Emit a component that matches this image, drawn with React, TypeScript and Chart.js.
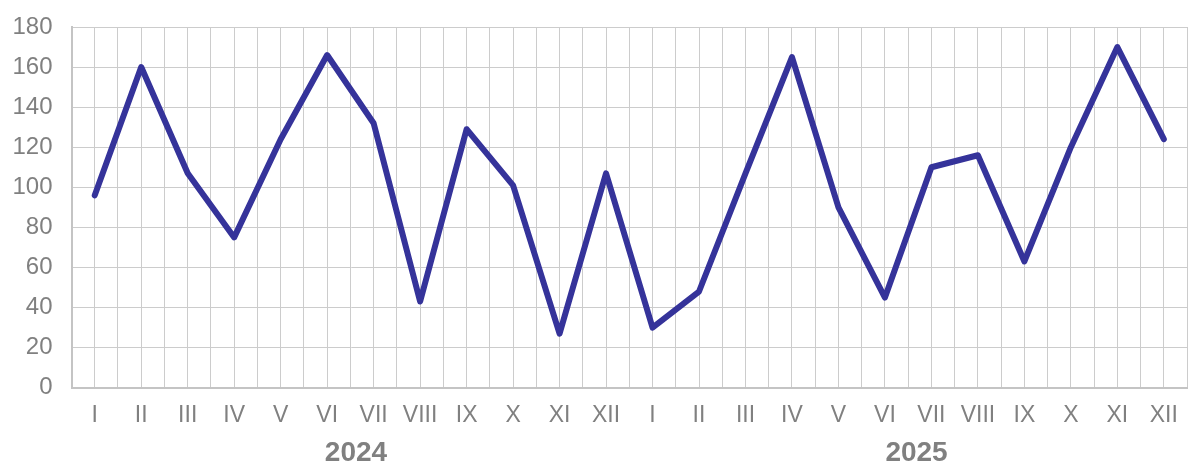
import React, { useEffect, useRef } from "react";
import { Chart, registerables } from "chart.js";

Chart.register(...registerables);

const months = ["I", "II", "III", "IV", "V", "VI", "VII", "VIII", "IX", "X", "XI", "XII"];
const categories = [...months, ...months];
const values = [
  96, 160, 107, 75, 124, 166, 132, 43, 129, 101, 27, 107,
  30, 48, 107, 165, 90, 45, 110, 116, 63, 120, 170, 124,
];
const years = ["2024", "2025"];
const yearTickValues = [5.62, 17.68];
const yTicks = [0, 20, 40, 60, 80, 100, 120, 140, 160, 180];

export default function App() {
  const canvasRef = useRef<HTMLCanvasElement | null>(null);

  useEffect(() => {
    const canvas = canvasRef.current;
    if (!canvas) return;
    const textColor = "#808080";
    const gridColor = "#cccccc";
    const chart = new Chart(canvas, {
      type: "line",
      data: {
        labels: categories,
        datasets: [
          {
            data: values,
            borderColor: "#35339a",
            borderWidth: 6,
            pointRadius: 0,
            tension: 0,
            borderJoinStyle: "round",
            borderCapStyle: "round",
            fill: false,
          },
        ],
      },
      options: {
        animation: false,
        responsive: false,
        devicePixelRatio: 1,
        layout: { padding: { top: 27, left: 0, right: 0, bottom: 0 } },
        plugins: { legend: { display: false }, tooltip: { enabled: false } },
        scales: {
          x: {
            type: "category",
            position: "bottom",
            weight: 0,
            offset: true,
            grid: { offset: false, color: gridColor, lineWidth: 1, drawTicks: false },
            border: { display: true, color: "#c4c4c4", width: 2 },
            ticks: {
              color: textColor,
              font: { family: "Liberation Sans, Arial", size: 23 },
              padding: 14,
              maxRotation: 0,
              autoSkip: false,
            },
            afterFit: (s: any) => {
              s.height = 40;
            },
          },
          xb: {
            type: "category",
            position: "top",
            offset: true,
            labels: categories,
            grid: { offset: true, color: gridColor, lineWidth: 1, drawTicks: false },
            border: { display: false },
            ticks: { display: false },
            afterFit: (s: any) => {
              s.height = 0;
            },
          },
          year: {
            type: "linear",
            position: "bottom",
            weight: 1,
            min: -0.5,
            max: 23.5,
            grid: { display: false, drawTicks: false },
            border: { display: false },
            afterBuildTicks: (s: any) => {
              s.ticks = yearTickValues.map((v) => ({ value: v }));
            },
            ticks: {
              color: textColor,
              font: { family: "Liberation Sans, Arial", size: 28, weight: "bold" },
              padding: 9,
              maxRotation: 0,
              autoSkip: false,
              callback: (_v: any, i: number) => years[i],
            },
            afterFit: (s: any) => {
              s.height = 34.3;
            },
          },
          y: {
            type: "linear",
            min: 0,
            max: 180,
            afterBuildTicks: (s: any) => {
              s.ticks = yTicks.map((v) => ({ value: v }));
            },
            grid: { color: gridColor, lineWidth: 1, drawTicks: false },
            border: { display: true, color: "#c4c4c4", width: 2 },
            ticks: {
              color: textColor,
              font: { family: "Liberation Sans, Arial", size: 24 },
              padding: 19,
            },
            afterFit: (s: any) => {
              s.width = 71.5;
              s.paddingTop = 0;
              s.paddingBottom = 0;
            },
          },
        },
      },
    });
    return () => chart.destroy();
  }, []);

  return (
    <div
      style={{
        position: "fixed",
        left: 0,
        top: 0,
        width: 1188,
        height: 462,
        overflow: "hidden",
        background: "#ffffff",
      }}
    >
      <canvas ref={canvasRef} width={1192} height={462} style={{ display: "block" }} />
    </div>
  );
}
